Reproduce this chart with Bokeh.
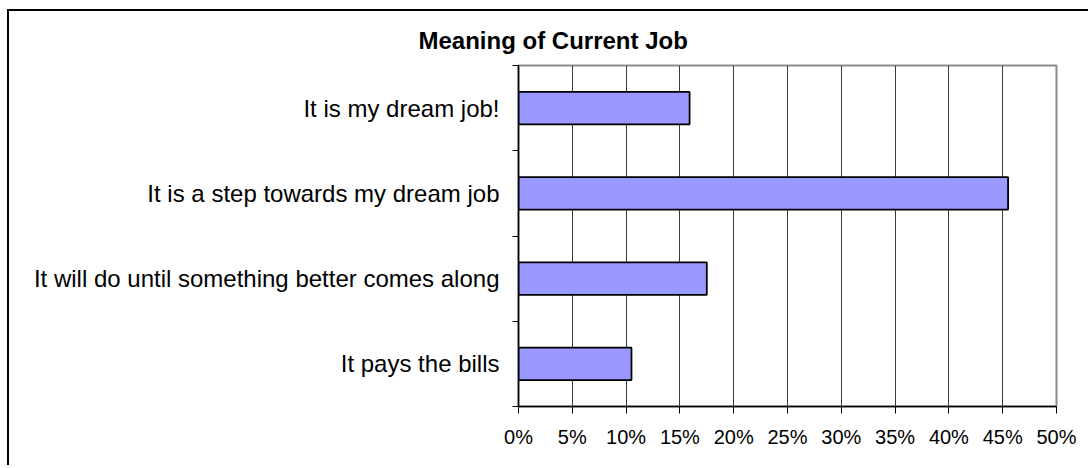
from bokeh.plotting import figure
from bokeh.models import Range1d, FixedTicker, PrintfTickFormatter
from bokeh.embed import file_html
from bokeh.resources import INLINE

title_text = "Meaning of Current Job"
categories = [
    "It is my dream job!",
    "It is a step towards my dream job",
    "It will do until something better comes along",
    "It pays the bills",
]
values = [15.9, 45.5, 17.5, 10.5]
x_ticks = [0, 5, 10, 15, 20, 25, 30, 35, 40, 45, 50]

n = len(categories)
# bottom-to-top positions (first category at top)
ypos = [n - 1 - i + 0.5 for i in range(n)]
boundaries = list(range(n + 1))

p = figure(
    width=1081, height=456,
    x_range=Range1d(0, 50), y_range=Range1d(0, n),
    output_backend="svg", toolbar_location=None,
    min_border_left=509, min_border_right=34,
    min_border_top=54, min_border_bottom=61,
    background_fill_color="white", border_fill_color="white",
)
p.styles = {"margin-left": "7px", "margin-top": "9px",
            "border-left": "2px solid black", "border-top": "2px solid black"}

p.title.text = title_text
p.title.text_font = "Liberation Sans"
p.title.text_font_size = "24px"
p.title.text_font_style = "bold"
p.title.text_color = "black"
p.title.align = "left"
p.title.offset = -100
p.title.standoff = 23

p.hbar(y=ypos, left=0, right=values, height=0.38,
       fill_color="#9999FF", line_color="black", line_width=1.8)

# x axis
xa = p.xaxis[0]
xa.ticker = FixedTicker(ticks=x_ticks)
xa.formatter = PrintfTickFormatter(format="%d%%")
xa.major_label_text_font = "Liberation Sans"
xa.major_label_text_font_size = "20px"
xa.major_label_text_color = "black"
xa.major_tick_out = 7
xa.major_tick_in = 0
xa.minor_tick_line_color = None
xa.axis_line_color = "black"
xa.axis_line_width = 1.5
xa.major_tick_line_color = "black"
xa.major_label_standoff = 12

# y axis
ya = p.yaxis[0]
ya.ticker = FixedTicker(ticks=ypos, minor_ticks=boundaries)
ya.major_label_overrides = {y: c for y, c in zip(ypos, categories)}
ya.major_label_text_font = "Liberation Sans"
ya.major_label_text_font_size = "24px"
ya.major_label_text_color = "black"
ya.major_tick_out = 0
ya.major_tick_in = 0
ya.minor_tick_out = 6
ya.minor_tick_in = 0
ya.minor_tick_line_color = "black"
ya.axis_line_color = "black"
ya.axis_line_width = 1.5
ya.major_label_standoff = 13

p.xgrid.ticker = FixedTicker(ticks=x_ticks[1:-1])
p.xgrid.grid_line_color = "#3a3a3a"
p.xgrid.grid_line_width = 1
p.ygrid.grid_line_color = None

p.outline_line_color = "#8c8c8c"
p.outline_line_width = 2

open("out.html", "w").write(file_html(p, INLINE))
